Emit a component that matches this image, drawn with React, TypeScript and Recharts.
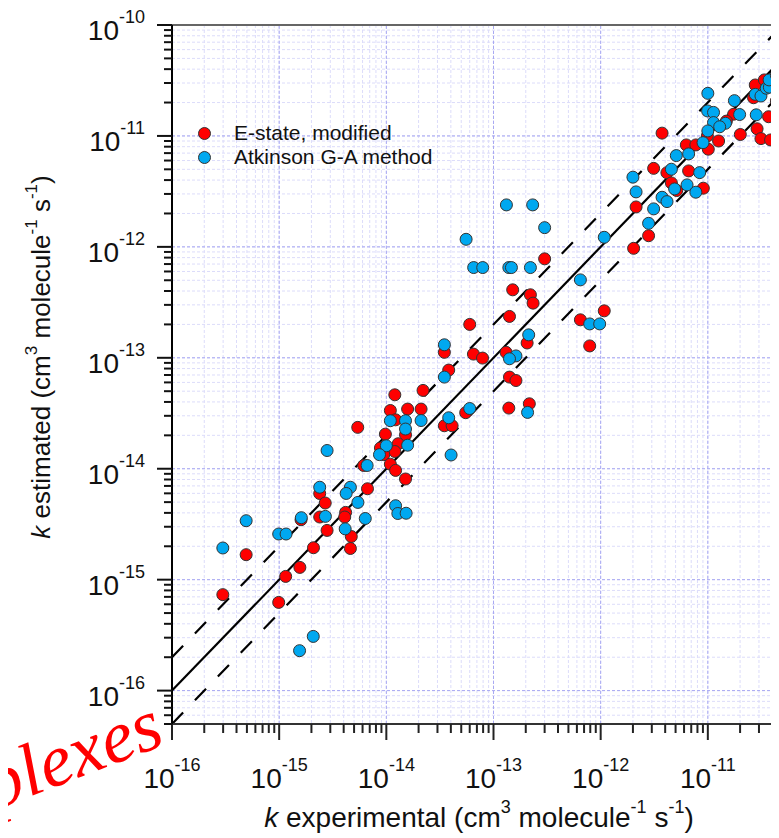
import {
  ScatterChart,
  Scatter,
  XAxis,
  YAxis,
  CartesianGrid,
  ReferenceLine,
  Legend,
} from 'recharts';

// E-state, modified
const eStateExp = [
  2.77e-11, 3.37e-11, 2.67e-11, 4.36e-11, 1.74e-11, 3.69e-11, 1.49e-11, 2.88e-11, 2.01e-11, 3.74e-12,
  9.9e-12, 3.13e-11, 3.85e-11, 1.26e-11, 6.3e-12, 7.73e-12, 1.01e-11, 3.12e-12, 4.15e-12, 6.62e-12,
  4.57e-12, 5.12e-12, 9.08e-12, 2.14e-12, 2.8e-12, 2.03e-12, 1.08e-12, 3.0e-13, 1.51e-13, 2.21e-13,
  2.34e-13, 6.47e-13, 7.9e-13, 6.0e-14, 1.41e-13, 2.06e-13, 3.48e-14, 6.5e-14, 7.9e-14, 1.31e-13,
  3.82e-14, 1.41e-13, 1.62e-13, 1.39e-13, 2.16e-13, 5.5e-14, 2.2e-14, 1.2e-14, 1.09e-14, 1.58e-14,
  2.11e-14, 1.22e-14, 5.41e-15, 9.8e-15, 1.51e-14, 3.48e-14, 4.11e-14, 8.81e-15, 1.29e-14, 1.2e-14,
  9.46e-15, 6.15e-15, 1.09e-14, 1.22e-14, 1.51e-14, 2.39e-15, 6.67e-15, 2.69e-15, 4.17e-15, 4.09e-15,
  2.39e-15, 1.6e-15, 2.8e-15, 4.71e-15, 4.62e-15, 4.92e-16, 2.09e-15, 1.56e-15, 1.15e-15, 2.98e-16,
  9.9e-16,
];
const eStateEst = [
  2.88e-11, 3.2e-11, 2.21e-11, 2.07e-11, 1.57e-11, 1.49e-11, 1.36e-11, 1.16e-11, 1.03e-11, 1.06e-11,
  1.0e-11, 9.46e-12, 9.2e-12, 9.0e-12, 8.3e-12, 8.3e-12, 7.59e-12, 5.1e-12, 4.66e-12, 4.84e-12,
  3.77e-12, 3.22e-12, 3.38e-12, 2.29e-12, 1.26e-12, 9.7e-13, 2.65e-13, 7.8e-13, 4.1e-13, 3.7e-13,
  3.11e-13, 2.2e-13, 1.28e-13, 2.0e-13, 2.36e-13, 1.36e-13, 1.12e-13, 1.08e-13, 9.94e-14, 1.12e-13,
  7.75e-14, 6.7e-14, 6.24e-14, 3.52e-14, 3.85e-14, 3.2e-14, 5.08e-14, 4.64e-14, 3.35e-14, 3.45e-14,
  3.45e-14, 2.76e-14, 2.36e-14, 2.05e-14, 2.02e-14, 2.44e-14, 2.44e-14, 1.54e-14, 1.68e-14, 1.43e-14,
  1.34e-14, 1.07e-14, 1.1e-14, 9.66e-15, 8.08e-15, 5.98e-15, 6.6e-15, 4.91e-15, 4.04e-15, 3.67e-15,
  3.67e-15, 3.47e-15, 2.78e-15, 2.45e-15, 1.91e-15, 1.68e-15, 1.94e-15, 1.29e-15, 1.07e-15, 7.33e-16,
  6.24e-16,
];

// Atkinson G-A method
const atkinsonExp = [
  1.0e-11, 9.95e-12, 1.13e-11, 1.46e-11, 1.13e-11, 1.0e-11, 1.29e-11, 9.02e-12, 1.77e-11, 1.98e-11,
  2.83e-11, 2.77e-11, 3.13e-11, 3.51e-11, 3.75e-11, 3.73e-11, 4.36e-11, 4.75e-11, 6.62e-12, 5.08e-12,
  4.57e-12, 8.39e-12, 2.0e-12, 6.4e-12, 4.9e-12, 7.73e-12, 2.14e-12, 3.74e-12, 4.16e-12, 3.12e-12,
  2.8e-12, 1.08e-12, 1.32e-13, 2.32e-13, 3.0e-13, 5.55e-14, 6.53e-14, 7.93e-14, 1.39e-13, 1.47e-13,
  2.21e-13, 6.47e-13, 7.9e-13, 9.79e-13, 2.13e-13, 3.48e-14, 1.62e-13, 1.41e-13, 3.48e-14, 2.08e-13,
  6.0e-14, 3.82e-14, 1.09e-14, 1.51e-14, 2.11e-14, 1.51e-14, 1.0e-14, 1.58e-14, 4.02e-14, 2.8e-15,
  8.63e-15, 6.62e-15, 2.39e-15, 4.62e-15, 4.22e-15, 5.43e-15, 1.22e-14, 1.28e-14, 1.53e-14, 2.7e-15,
  1.61e-15, 6.36e-15, 4.92e-16, 4.13e-15, 9.9e-16, 1.16e-15, 2.98e-16, 2.08e-15, 1.55e-15,
];
const atkinsonEst = [
  2.42e-11, 1.68e-11, 1.63e-11, 1.3e-11, 1.32e-11, 1.11e-11, 1.21e-11, 8.7e-12, 2.08e-11, 1.56e-11,
  1.55e-11, 2.37e-11, 2.29e-11, 2.69e-11, 2.75e-11, 3.2e-11, 3.52e-11, 1.71e-11, 6.89e-12, 6.65e-12,
  5.01e-12, 4.67e-12, 4.25e-12, 3.62e-12, 3.33e-12, 3.11e-12, 3.13e-12, 2.8e-12, 2.56e-12, 2.2e-12,
  1.63e-12, 1.22e-12, 2.39e-12, 2.39e-12, 1.49e-12, 1.17e-12, 6.51e-13, 6.51e-13, 6.51e-13, 6.51e-13,
  6.51e-13, 5.04e-13, 2.02e-13, 2.02e-13, 1.61e-13, 1.31e-13, 1.04e-13, 9.8e-14, 6.7e-14, 3.22e-14,
  3.49e-14, 2.88e-14, 2.71e-14, 2.71e-14, 2.72e-14, 2.28e-14, 1.61e-14, 1.63e-14, 1.33e-14, 1.46e-14,
  1.34e-14, 1.07e-14, 6.81e-15, 6.81e-15, 5.99e-15, 4.97e-15, 4.64e-15, 3.95e-15, 3.97e-15, 3.72e-15,
  3.62e-15, 3.56e-15, 3.4e-15, 2.87e-15, 2.58e-15, 2.58e-15, 1.93e-15, 3.08e-16, 2.29e-16,
];

const majorExponents = [-16, -15, -14, -13, -12, -11];
const mantissas = [1, 2, 3, 4, 5, 6, 7, 8, 9];
const yBelowMantissas = [5, 6, 7, 8, 9]; // x 1e-17, below the 1e-16 decade
const xLabelExponents = [-16, -15, -14, -13, -12, -11];
const yLabelExponents = [-16, -15, -14, -13, -12, -11, -10];

const xTicks = [
  ...majorExponents.flatMap((e) => mantissas.map((m) => Number(`${m}e${e}`))),
  1e-10,
];
const yTicks = [...yBelowMantissas.map((m) => Number(`${m}e-17`)), ...xTicks];

const font = '"Liberation Sans", Arial, sans-serif';
const RED = '#ff0000';
const BLUE = '#00a8f0';

const eStateData = eStateExp.map((x, i) => ({ exp: x, est: eStateEst[i] }));
const atkinsonData = atkinsonExp.map((x, i) => ({ exp: x, est: atkinsonEst[i] }));

const legendItems = [
  { name: 'E-state, modified', color: RED },
  { name: 'Atkinson G-A method', color: BLUE },
];

const expOf = (v: number) => Math.round(Math.log10(v));
const isMajor = (v: number) => Math.abs(Math.log10(v) - expOf(v)) < 1e-9;

function YTick({ x, y, payload }: any) {
  const v = payload.value;
  const major = isMajor(v);
  const showLabel = major && yLabelExponents.includes(expOf(v));
  return (
    <g>
      <line x1={x - (major ? 15 : 8)} x2={x} y1={y} y2={y} stroke="#111" strokeWidth={2} />
      {showLabel && (
        <text x={x - 27} y={y + 15} textAnchor="end" fontSize={28} fill="#111" fontFamily={font}>
          10<tspan dy={-17} fontSize={18}>{expOf(v)}</tspan>
        </text>
      )}
    </g>
  );
}

function XTick({ x, y, payload }: any) {
  const v = payload.value;
  const major = isMajor(v);
  const showLabel = major && xLabelExponents.includes(expOf(v));
  return (
    <g>
      <line x1={x} x2={x} y1={y} y2={y + (major ? 16 : 9)} stroke="#222" strokeWidth={2} />
      {showLabel && (
        <text x={x} y={y + 64} textAnchor="middle" fontSize={28} fill="#111" fontFamily={font}>
          10<tspan dy={-17} fontSize={18}>{expOf(v)}</tspan>
        </text>
      )}
    </g>
  );
}

function XTitle({ viewBox }: any) {
  const cx = (viewBox?.x ?? 164) + 307;
  const by = (viewBox?.y ?? 716) + 103;
  return (
    <text x={cx} y={by} textAnchor="middle" fontSize={28} fill="#111" fontFamily={font}>
      <tspan fontStyle="italic">k</tspan> experimental (cm
      <tspan dy={-14} fontSize={18}>3</tspan>
      <tspan dy={14}>  molecule</tspan>
      <tspan dy={-14} fontSize={18}>-1</tspan>
      <tspan dy={14}>  s</tspan>
      <tspan dy={-14} fontSize={18}>-1</tspan>
      <tspan dy={14}>)</tspan>
    </text>
  );
}

function YTitle() {
  const cx = 42;
  const cy = 349;
  return (
    <text
      x={cx}
      y={cy}
      transform={`rotate(-90 ${cx} ${cy})`}
      textAnchor="middle"
      fontSize={26}
      fill="#111"
      fontFamily={font}
    >
      <tspan fontStyle="italic">k</tspan> estimated (cm
      <tspan dy={-13} fontSize={17}>3</tspan>
      <tspan dy={13}> molecule</tspan>
      <tspan dy={-13} fontSize={17}>-1</tspan>
      <tspan dy={13}> s</tspan>
      <tspan dy={-13} fontSize={17}>-1</tspan>
      <tspan dy={13}>)</tspan>
    </text>
  );
}

function LegendBox() {
  return (
    <div style={{ fontFamily: font, fontSize: 21, color: '#111' }}>
      {legendItems.map((it) => (
        <div key={it.name} style={{ display: 'flex', alignItems: 'center', height: 24, whiteSpace: 'nowrap' }}>
          <span
            style={{
              display: 'inline-block',
              width: 13,
              height: 13,
              borderRadius: '50%',
              background: it.color,
              border: '1px solid #333',
              boxSizing: 'border-box',
              marginRight: 23,
            }}
          />
          {it.name}
        </div>
      ))}
    </div>
  );
}

const dot = (color: string) => (props: any) => {
  const { cx, cy } = props;
  if (cx == null || cy == null) return null;
  return <circle cx={cx} cy={cy} r={6} fill={color} stroke="#333" strokeWidth={1} />;
};

export default function App() {
  return (
    <div style={{ position: 'relative', width: 771, height: 830, overflow: 'hidden' }}>
      <ScatterChart width={807} height={830} margin={{ top: 17, right: 0, bottom: 0, left: 0 }}>
        <CartesianGrid stroke="#dcdcfa" strokeDasharray="3 2" />
        {majorExponents.map((e) => (
          <ReferenceLine key={`vx${e}`} x={Number(`1e${e}`)} stroke="#a9a9f2" strokeDasharray="3 2" ifOverflow="visible" />
        ))}
        {majorExponents.map((e) => (
          <ReferenceLine key={`hy${e}`} y={Number(`1e${e}`)} stroke="#a9a9f2" strokeDasharray="3 2" ifOverflow="visible" />
        ))}
        <XAxis
          dataKey="exp"
          type="number"
          scale="log"
          domain={[1e-16, 1e-10]}
          allowDataOverflow
          ticks={xTicks}
          interval={0}
          tick={<XTick />}
          tickLine={false}
          tickSize={0}
          tickMargin={0}
          height={114}
          axisLine={{ stroke: '#333', strokeWidth: 2 }}
          label={<XTitle />}
        />
        <YAxis
          dataKey="est"
          type="number"
          scale="log"
          domain={[5e-17, 1e-10]}
          allowDataOverflow
          ticks={yTicks}
          interval={0}
          tick={<YTick />}
          tickLine={false}
          tickSize={0}
          tickMargin={0}
          width={164}
          axisLine={{ stroke: '#000', strokeWidth: 2 }}
          label={<YTitle />}
        />
        <ReferenceLine y={1e-10} stroke="#666" strokeWidth={2} ifOverflow="visible" />
        <ReferenceLine
          segment={[{ x: 1e-16, y: 1e-16 }, { x: 1e-10, y: 1e-10 }]}
          stroke="#000"
          strokeWidth={2.2}
          ifOverflow="visible"
        />
        <ReferenceLine
          segment={[{ x: 1e-16, y: 2e-16 }, { x: 5e-11, y: 1e-10 }]}
          stroke="#000"
          strokeWidth={2.2}
          strokeDasharray="16 17"
          ifOverflow="visible"
        />
        <ReferenceLine
          segment={[{ x: 1e-16, y: 5e-17 }, { x: 1e-10, y: 5e-11 }]}
          stroke="#000"
          strokeWidth={2.2}
          strokeDasharray="16 17"
          ifOverflow="visible"
        />
        <Legend
          layout="horizontal"
          verticalAlign="middle"
          align="center"
          content={() => <LegendBox />}
          wrapperStyle={{ left: 190, top: 113, width: 300, height: 50 }}
        />
        <Scatter name="E-state, modified" data={eStateData} fill={RED} shape={dot(RED)} isAnimationActive={false} />
        <Scatter name="Atkinson G-A method" data={atkinsonData} fill={BLUE} shape={dot(BLUE)} isAnimationActive={false} />
      </ScatterChart>
      <svg
        width={771}
        height={830}
        style={{ position: 'absolute', left: 0, top: 0, pointerEvents: 'none' }}
      >
        <text
          x={159}
          y={736}
          transform="rotate(-21 159 736)"
          textAnchor="end"
          fontSize={74}
          fontStyle="italic"
          fill={RED}
          fontFamily='"Liberation Serif", "DejaVu Serif", serif'
        >
          plexes
        </text>
      </svg>
    </div>
  );
}
